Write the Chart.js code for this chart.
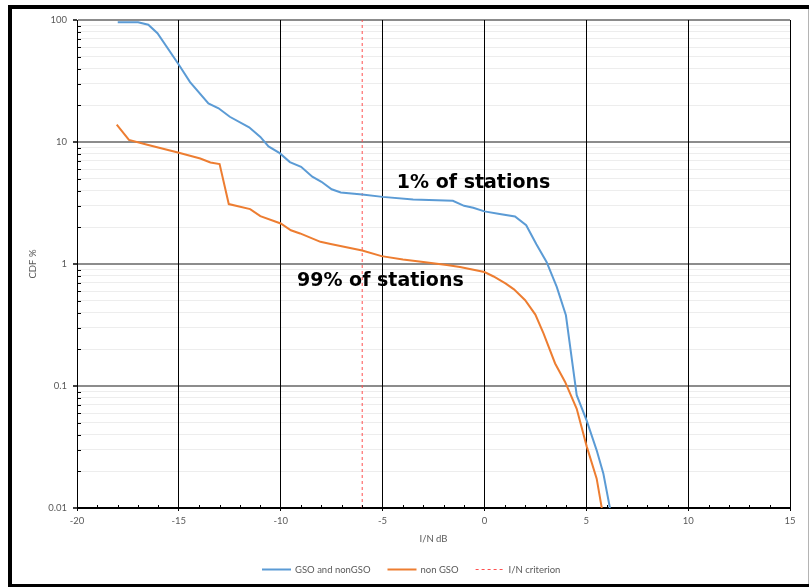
<!DOCTYPE html>
<html>
<head>
<meta charset="utf-8">
<script src="https://cdn.jsdelivr.net/npm/chart.js@4/dist/chart.umd.min.js"></script>
<style>
  html, body { margin: 0; padding: 0; background: #fff; }
  canvas { display: block; }
</style>
</head>
<body>
<canvas id="cdf" width="809" height="587"></canvas>
<script>
// I/N (dB) and CDF (%) for all stations, GSO and non-GSO interference combined
const gsoX = [-18.0, -17.0, -16.5, -16.05, -15.0, -14.45, -13.55, -13.05, -12.5, -11.55, -11.0, -10.6, -10.05, -9.55, -9.0, -8.45, -8.0, -7.5, -7.05, -6.0, -5.0, -3.5, -1.55, -1.0, -0.55, 0.0, 0.75, 1.5, 2.05, 2.55, 3.05, 3.55, 4.0, 4.53, 5.02, 5.51, 5.84, 6.16];
const gsoY = [96, 96, 91.5, 78, 43, 31, 20.7, 18.9, 16.1, 13.2, 11.0, 9.2, 8.1, 6.85, 6.26, 5.2, 4.72, 4.1, 3.86, 3.72, 3.55, 3.38, 3.30, 3.0, 2.89, 2.7, 2.57, 2.45, 2.08, 1.45, 1.04, 0.65, 0.38, 0.084, 0.052, 0.0297, 0.0191, 0.01];

// I/N (dB) and CDF (%) for non-GSO interference only
const ngsoX = [-18.05, -17.45, -16.55, -15.0, -13.95, -13.45, -13.0, -12.55, -11.5, -11.0, -10.0, -9.5, -9.05, -8.05, -7.55, -6.0, -5.05, -4.0, -3.0, -1.85, -1.2, 0.0, 0.45, 1.05, 1.45, 2.0, 2.5, 2.9, 3.47, 3.96, 4.53, 5.02, 5.51, 5.76];
const ngsoY = [13.9, 10.4, 9.5, 8.16, 7.33, 6.8, 6.6, 3.1, 2.82, 2.47, 2.15, 1.89, 1.78, 1.52, 1.46, 1.29, 1.16, 1.09, 1.04, 0.98, 0.945, 0.86, 0.79, 0.69, 0.62, 0.505, 0.385, 0.27, 0.153, 0.108, 0.065, 0.032, 0.0174, 0.01];

// Protection criterion I/N = -6 dB, drawn across the full CDF range
const criterionX = [-6, -6];
const criterionY = [0.01, 100];

const seriesNames = ['GSO and nonGSO', 'non GSO', 'I/N criterion'];
const yDecades = [0.01, 0.1, 1, 10, 100];
const xRange = [-20, 15];

const noteTexts = ['1% of stations', '99% of stations'];
const noteX = [-4.3, -9.2];
const noteY = [4.6, 0.72];

const toPoints = (xs, ys) => xs.map((x, i) => ({ x: x, y: ys[i] }));
const isDecade = v => Math.abs(Math.log10(v) - Math.round(Math.log10(v))) < 1e-9;

const TEXT_GREY = '#595959';
const tickFont = { family: 'Lato', size: 9.5 };

// All 1..9 multiples of each decade (minor grid), decades labelled
function logTickValues() {
  const out = [];
  for (let i = 0; i < yDecades.length - 1; i++) {
    for (let k = 1; k <= 9; k++) out.push(yDecades[i] * k);
  }
  out.push(yDecades[yDecades.length - 1]);
  return out;
}

const framePlugin = {
  id: 'frame',
  beforeDraw(chart) {
    const ctx = chart.ctx;
    ctx.save();
    ctx.fillStyle = '#ffffff';
    ctx.fillRect(0, 0, chart.width, chart.height);
    ctx.fillStyle = '#000000';
    ctx.fillRect(8, 5, 801, 4);
    ctx.fillRect(8, 5, 4, 582);
    ctx.fillRect(8, 584, 801, 3);
    ctx.fillStyle = '#b4b4b4';
    ctx.fillRect(808, 9, 1, 575);
    ctx.restore();
  }
};

// Short inward minor tick marks on both axes
const minorTicksPlugin = {
  id: 'minorTicks',
  afterDraw(chart) {
    const { ctx, chartArea, scales } = chart;
    ctx.save();
    ctx.strokeStyle = '#000000';
    ctx.lineWidth = 1;
    ctx.beginPath();
    logTickValues().forEach(v => {
      if (isDecade(v)) return;
      const y = Math.round(scales.y.getPixelForValue(v)) + 0.5;
      ctx.moveTo(chartArea.left, y);
      ctx.lineTo(chartArea.left + 4, y);
    });
    for (let v = xRange[0] + 1; v < xRange[1]; v++) {
      if (v % 5 === 0) continue;
      const x = Math.round(scales.x.getPixelForValue(v)) + 0.5;
      ctx.moveTo(x, chartArea.bottom);
      ctx.lineTo(x, chartArea.bottom - 3);
    }
    ctx.stroke();
    ctx.restore();
  }
};

const notesPlugin = {
  id: 'notes',
  afterDatasetsDraw(chart) {
    const { ctx, scales } = chart;
    ctx.save();
    ctx.fillStyle = '#000000';
    ctx.font = 'bold 19px "DejaVu Sans"';
    ctx.textAlign = 'left';
    ctx.textBaseline = 'middle';
    noteTexts.forEach((t, i) => {
      ctx.fillText(t, scales.x.getPixelForValue(noteX[i]), scales.y.getPixelForValue(noteY[i]));
    });
    ctx.restore();
  }
};

// Legend row below the axis title: line sample, label, gap
const legendPlugin = {
  id: 'legendRow',
  afterDraw(chart) {
    const ctx = chart.ctx;
    const sample = 29, gapText = 4, gapItem = 17, cy = 569.5, centre = 411.5;
    ctx.save();
    ctx.font = '9.5px Lato';
    ctx.textBaseline = 'middle';
    ctx.textAlign = 'left';
    const items = chart.data.datasets.map(ds => ({
      ds, w: sample + gapText + ctx.measureText(ds.label).width
    }));
    const total = items.reduce((s, it) => s + it.w, 0) + gapItem * (items.length - 1);
    let x = Math.round(centre - total / 2);
    items.forEach(it => {
      ctx.strokeStyle = it.ds.borderColor;
      ctx.lineWidth = it.ds.borderWidth;
      ctx.setLineDash(it.ds.borderDash || []);
      ctx.beginPath();
      ctx.moveTo(x, cy);
      ctx.lineTo(x + sample, cy);
      ctx.stroke();
      ctx.setLineDash([]);
      ctx.fillStyle = TEXT_GREY;
      ctx.fillText(it.ds.label, x + sample + gapText, cy);
      x += it.w + gapItem;
    });
    ctx.restore();
  }
};

new Chart(document.getElementById('cdf'), {
  type: 'line',
  data: {
    datasets: [
      {
        label: seriesNames[0],
        data: toPoints(gsoX, gsoY),
        borderColor: '#5B9BD5',
        borderWidth: 2,
        pointRadius: 0,
        tension: 0
      },
      {
        label: seriesNames[1],
        data: toPoints(ngsoX, ngsoY),
        borderColor: '#ED7D31',
        borderWidth: 2,
        pointRadius: 0,
        tension: 0
      },
      {
        label: seriesNames[2],
        data: toPoints(criterionX, criterionY),
        borderColor: '#FF5050',
        borderWidth: 1,
        borderDash: [3, 3],
        pointRadius: 0,
        tension: 0
      }
    ]
  },
  options: {
    responsive: false,
    animation: false,
    devicePixelRatio: 1,
    layout: { padding: { left: 0, right: 19, top: 20, bottom: 34 } },
    plugins: {
      legend: { display: false },
      tooltip: { enabled: false }
    },
    scales: {
      x: {
        type: 'linear',
        min: xRange[0],
        max: xRange[1],
        ticks: {
          stepSize: 5,
          color: TEXT_GREY,
          font: tickFont,
          padding: 4,
          maxRotation: 0
        },
        grid: {
          z: -1,
          color: '#000000',
          lineWidth: 1,
          tickLength: 3,
          tickColor: '#000000'
        },
        border: { color: '#000000', width: 1 },
        title: {
          display: true,
          text: 'I/N dB',
          color: TEXT_GREY,
          font: tickFont,
          padding: { top: 4, bottom: 8 }
        },
        afterFit(scale) { scale.height = 45; }
      },
      y: {
        type: 'logarithmic',
        min: yDecades[0],
        max: yDecades[yDecades.length - 1],
        afterBuildTicks(scale) {
          scale.ticks = logTickValues().map(v => ({ value: v, major: isDecade(v) }));
        },
        ticks: {
          autoSkip: false,
          color: TEXT_GREY,
          font: tickFont,
          padding: 6,
          callback: v => (isDecade(v) ? String(+v.toPrecision(3)) : '')
        },
        grid: {
          z: -2,
          color: ctx => {
            const v = ctx.tick ? ctx.tick.value : 1;
            if (!isDecade(v)) return '#ededed';
            return v <= yDecades[0] ? '#000000' : '#8c8c8c';
          },
          lineWidth: ctx => (ctx.tick && isDecade(ctx.tick.value) ? 2 : 1),
          tickLength: 4,
          tickColor: ctx => (ctx.tick && isDecade(ctx.tick.value) ? '#404040' : 'rgba(0,0,0,0)')
        },
        border: { color: '#000000', width: 1 },
        title: {
          display: true,
          text: 'CDF %',
          color: TEXT_GREY,
          font: tickFont,
          padding: { top: 27, bottom: 0 }
        },
        afterFit(scale) { scale.width = 77; }
      }
    }
  },
  plugins: [framePlugin, minorTicksPlugin, notesPlugin, legendPlugin]
});
</script>
</body>
</html>
